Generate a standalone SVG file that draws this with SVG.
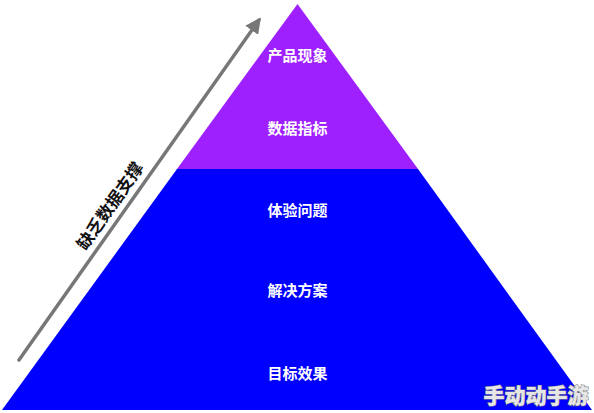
<svg xmlns="http://www.w3.org/2000/svg" width="594" height="413" viewBox="0 0 594 413">
<defs>
<style>
.lbl{font-family:"Noto Sans CJK SC","Liberation Sans",sans-serif;font-size:15px;font-weight:bold;fill:#fff;text-anchor:middle}
.side{font-family:"Noto Sans CJK SC","Liberation Sans",sans-serif;font-size:17px;font-weight:bold;fill:#111;text-anchor:middle}
.wm{font-family:"Noto Sans CJK SC","Liberation Sans",sans-serif;font-size:21px;font-weight:900;fill:#e6e6e6;stroke:#8a8a8a;stroke-width:1.2;paint-order:stroke;text-anchor:middle}
</style>
<marker id="ah" viewBox="0 0 10 10" refX="8" refY="5" markerWidth="4.5" markerHeight="4.5" orient="auto">
<path d="M0,0 L10,5 L0,10 Z" fill="#777"/>
</marker>
</defs>
<rect width="594" height="413" fill="#fff"/>
<g id="pyramid-top">
<polygon points="297.5,4 418,169 177,169" fill="#9E20FF"/>
</g>
<g id="pyramid-bottom">
<polygon points="177,169 418,169 592,410 2,410" fill="#0000FF"/>
</g>
<g id="node-1"><text class="lbl" x="297.5" y="61">产品现象</text></g>
<g id="node-2"><text class="lbl" x="297.5" y="133.5">数据指标</text></g>
<g id="node-3"><text class="lbl" x="297.5" y="215.5">体验问题</text></g>
<g id="node-4"><text class="lbl" x="297.5" y="295.5">解决方案</text></g>
<g id="node-5"><text class="lbl" x="297.5" y="379">目标效果</text></g>
<g id="connectors">
<line x1="19" y1="360" x2="259" y2="20" stroke="#777" stroke-width="3.5" stroke-linecap="round" marker-end="url(#ah)"/>
</g>
<g id="side-label">
<text class="side" transform="translate(110,206) rotate(-55)" y="6">缺乏数据支撑</text>
</g>
<g id="watermark">
<text class="wm" x="536" y="403">手动动手游</text>
</g>
</svg>
